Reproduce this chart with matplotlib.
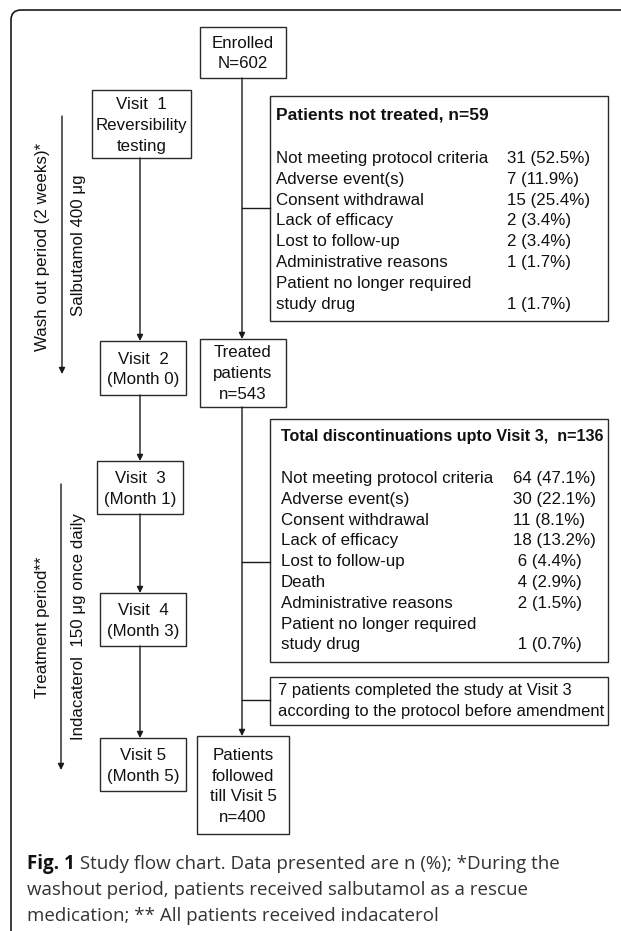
import matplotlib.pyplot as plt
from matplotlib.patches import Rectangle, FancyBboxPatch

W, H = 621, 931

# box labels
enrolled = ["Enrolled", "N=602"]
treated = ["Treated", "patients", "n=543"]
followed = ["Patients", "followed", "till Visit 5", "n=400"]
visit_labels = [
    ["Visit  1", "Reversibility", "testing"],
    ["Visit  2", "(Month 0)"],
    ["Visit  3", "(Month 1)"],
    ["Visit  4", "(Month 3)"],
    ["Visit 5", "(Month 5)"],
]

not_treated_title = "Patients not treated, n=59"
not_treated_reasons = [
    "Not meeting protocol criteria",
    "Adverse event(s)",
    "Consent withdrawal",
    "Lack of efficacy",
    "Lost to follow-up",
    "Administrative reasons",
    "Patient no longer required",
    "study drug",
]
not_treated_values = ["31 (52.5%)", "7 (11.9%)", "15 (25.4%)", "2 (3.4%)",
                      "2 (3.4%)", "1 (1.7%)", "", "1 (1.7%)"]

disc_title = "Total discontinuations upto Visit 3,  n=136"
disc_reasons = [
    "Not meeting protocol criteria",
    "Adverse event(s)",
    "Consent withdrawal",
    "Lack of efficacy",
    "Lost to follow-up",
    "Death",
    "Administrative reasons",
    "Patient no longer required",
    "study drug",
]
disc_values = ["64 (47.1%)", "30 (22.1%)", "11 (8.1%)", "18 (13.2%)",
               " 6 (4.4%)", " 4 (2.9%)", " 2 (1.5%)", "", " 1 (0.7%)"]

completed_note = ["7 patients completed the study at Visit 3",
                  "according to the protocol before amendment"]

washout_label = "Wash out period (2 weeks)*"
salbutamol_label = "Salbutamol 400 \u03bcg"
treatment_label = "Treatment period**"
indacaterol_label = "Indacaterol  150 \u03bcg once daily"

caption_bold = "Fig. 1"
caption_lines = [
    " Study flow chart. Data presented are n (%); *During the",
    "washout period, patients received salbutamol as a rescue",
    "medication; ** All patients received indacaterol",
]

FONT = "Liberation Sans"
FS = 12.2
CAP_FS = 13.5
EDGE = "#2a2a2a"
LINE = "#1a1a1a"
STEP = 20.8

fig = plt.figure(figsize=(W / 100, H / 100), dpi=100)
ax = fig.add_axes([0, 0, 1, 1])
ax.set_xlim(0, W)
ax.set_ylim(H, 0)
ax.axis("off")

# outer frame, cut off at right and bottom
ax.add_patch(FancyBboxPatch((11, 10), 700, 1000,
                            boxstyle="round,pad=0,rounding_size=10",
                            fill=False, lw=1.2, ec="#1a1a1a"))


def box(x0, y0, x1, y1):
    ax.add_patch(Rectangle((x0, y0), x1 - x0, y1 - y0, fill=False,
                           lw=1.0, ec=EDGE))


def centered(cx, cy, lines):
    n = len(lines)
    for i, s in enumerate(lines):
        ax.text(cx, cy + (i - (n - 1) / 2) * STEP, s, ha="center",
                va="center_baseline", family=FONT, fontsize=FS, color="#111")


def arrow(x, y0, y1):
    ax.annotate("", xy=(x, y1), xytext=(x, y0),
                arrowprops=dict(arrowstyle="-|>", lw=1.0, color=LINE,
                                mutation_scale=9, shrinkA=0, shrinkB=0))


def hline(x0, x1, y):
    ax.plot([x0, x1], [y, y], color=LINE, lw=1.0)


def left_text(x, y, s, size=FS, weight="normal"):
    ax.text(x, y, s, ha="left", va="center_baseline", family=FONT,
            fontsize=size, fontweight=weight, color="#111")


# left column: visits
visit_boxes = [(92, 90, 191, 158), (100, 341, 186, 395), (97, 461, 183, 514),
               (100, 593, 186, 646), (100, 738, 186, 791)]
for (x0, y0, x1, y1), lab in zip(visit_boxes, visit_labels):
    box(x0, y0, x1, y1)
    centered((x0 + x1) / 2, (y0 + y1) / 2, lab)
for a, b in zip(visit_boxes[:-1], visit_boxes[1:]):
    arrow(140, a[3], b[1])

# middle column
box(200, 27, 286, 78)
centered(243, 52, enrolled)
box(200, 339, 286, 407)
centered(243, 372, treated)
box(197, 736, 289, 834)
centered(243, 785, followed)
arrow(242, 78, 339)
arrow(242, 407, 736)
hline(242, 270, 208)
hline(242, 270, 562)
hline(242, 270, 700)

# patients not treated
box(270, 96, 608, 321)
left_text(276, 113, not_treated_title, size=12.5, weight="bold")
for i, (r, v) in enumerate(zip(not_treated_reasons, not_treated_values)):
    y = 157 + i * STEP
    left_text(276, y, r)
    left_text(507, y, v)

# discontinuations
box(270, 419, 608, 662)
left_text(281, 435, disc_title, size=11.6, weight="bold")
for i, (r, v) in enumerate(zip(disc_reasons, disc_values)):
    y = 477 + i * STEP
    left_text(281, y, r)
    left_text(513, y, v)

# completed note
box(270, 677, 608, 725)
for i, s in enumerate(completed_note):
    left_text(278, 689 + i * STEP, s, size=11.9)

# period arrows and labels
arrow(62, 116, 374)
arrow(61, 484, 770)
for x, y, s in [(43, 247, washout_label), (79, 245, salbutamol_label),
                (43, 627, treatment_label), (79, 627, indacaterol_label)]:
    ax.text(x, y, s, rotation=90, ha="center", va="center", family=FONT,
            fontsize=FS, color="#111")

# caption
cap = ax.text(27, 862, caption_bold, ha="left", va="center_baseline",
              family="Open Sans", fontsize=CAP_FS, fontweight="bold",
              color="#111")
fig.canvas.draw()
bb = cap.get_window_extent(fig.canvas.get_renderer())
x_end = ax.transData.inverted().transform((bb.x1, bb.y0))[0]
ax.text(x_end, 862, caption_lines[0], ha="left", va="center_baseline",
        family="Open Sans", fontsize=CAP_FS, color="#333")
for i, s in enumerate(caption_lines[1:]):
    ax.text(27, 888 + i * 26, s, ha="left", va="center_baseline",
            family="Open Sans", fontsize=CAP_FS, color="#333")

fig.savefig("out.png", dpi=100)
